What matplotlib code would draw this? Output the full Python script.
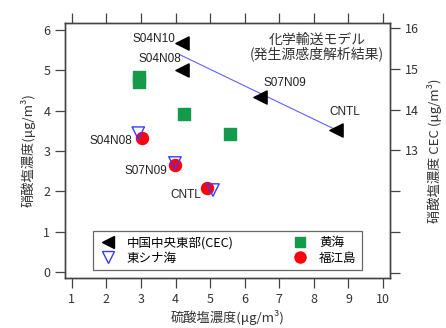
import matplotlib
matplotlib.use("Agg")
import matplotlib.pyplot as plt
from matplotlib.lines import Line2D

plt.rcParams['font.family'] = ['Noto Sans CJK JP', 'DejaVu Sans']

# 中国中央東部 (CEC) - right axis
cec_x = [4.19, 4.19, 6.45, 8.65]
cec_y = [15.63, 14.97, 14.31, 13.50]
cec_lbl = ["S04N10", "S04N08", "S07N09", "CNTL"]

# 回帰線 (right axis)
fit_x = [4.13, 8.65]
fit_y = [15.34, 13.50]

# 黄海
yel_x = [2.94, 2.94, 4.25, 5.58]
yel_y = [4.83, 4.71, 3.92, 3.42]

# 東シナ海
ecs_x = [2.92, 3.98, 5.08]
ecs_y = [3.44, 2.70, 2.03]

# 福江島
fuk_x = [3.03, 3.99, 4.90]
fuk_y = [3.32, 2.66, 2.08]
fuk_lbl = ["S04N08", "S07N09", "CNTL"]

fig = plt.figure(figsize=(4.46, 3.28), dpi=100)
ax = fig.add_axes([0.1457, 0.1524, 0.7287, 0.7776])
ax2 = ax.twinx()

gray = "#444444"
blue = "#3a3aff"
lab = dict(fontsize=8.5, color="#222222", family=["Liberation Sans", "DejaVu Sans"])

ax.scatter(yel_x, yel_y, marker="s", s=70, color="#139a4a", zorder=3)
ax.scatter(fuk_x, fuk_y, marker="o", s=75, color="#ff0010", zorder=3)
ax.scatter(ecs_x, ecs_y, marker="v", s=80, facecolors="none", edgecolors=blue,
           linewidths=1.0, zorder=4)

ax2.plot(fit_x, fit_y, color="#6060ff", lw=0.8, zorder=2)
ax2.scatter(cec_x, cec_y, marker="<", s=90, color="black", zorder=3)

# labels (CEC)
ax2.text(4.0, 15.72, cec_lbl[0], ha="right", va="center", **lab)
ax2.text(4.15, 15.25, cec_lbl[1], ha="right", va="center", **lab)
ax2.text(6.55, 14.65, cec_lbl[2], ha="left", va="center", **lab)
ax2.text(8.45, 13.95, cec_lbl[3], ha="left", va="center", **lab)

# labels (福江島)
ax.text(2.75, 3.25, fuk_lbl[0], ha="right", va="center", **lab)
ax.text(3.75, 2.5, fuk_lbl[1], ha="right", va="center", **lab)
ax.text(4.75, 1.9, fuk_lbl[2], ha="right", va="center", **lab)

ax.text(0.775, 0.96, "化学輸送モデル\n(発生源感度解析結果)", transform=ax.transAxes,
        ha="center", va="top", fontsize=10, color="#333333", linespacing=0.9)

ax.set_xlim(0.8, 10.2)
ax.set_ylim(-0.15, 6.17)
ax2.set_ylim(9.88, 16.12)

ax.set_xticks(range(1, 11))
ax.set_yticks(range(0, 7))
ax2.set_yticks(range(10, 17))
ax2.set_yticklabels(["", "", "", "13", "14", "15", "16"])

ax.tick_params(axis="both", direction="out", length=7, width=0.9, color=gray,
               labelsize=9, labelcolor="#333333", top=True)
ax.tick_params(axis="x", pad=4)
ax2.tick_params(axis="y", direction="out", length=7, width=0.9, color=gray,
                labelsize=9, labelcolor="#333333")

for a in (ax, ax2):
    for s in a.spines.values():
        s.set_color(gray)
        s.set_linewidth(1.0)

ax.set_xlabel("硫酸塩濃度(μg/m³)", fontsize=9.5, color="#333333", labelpad=3)
ax.set_ylabel("硝酸塩濃度(μg/m³)", fontsize=9.5, color="#333333", labelpad=6)
ax2.set_ylabel("硝酸塩濃度 CEC (μg/m³)", fontsize=9.5, color="#333333", labelpad=6)

handles = [
    Line2D([], [], ls="none", marker="<", color="black", ms=8),
    Line2D([], [], ls="none", marker="v", mfc="none", mec=blue, ms=8),
    Line2D([], [], ls="none", marker="s", color="#139a4a", ms=7),
    Line2D([], [], ls="none", marker="o", color="#ff0010", ms=8),
]
names = ["中国中央東部(CEC)", "東シナ海", "黄海", "福江島"]
leg = ax.legend(handles, names, ncol=2, loc="lower left",
                bbox_to_anchor=(0.066, 0.008, 0.866, 0.15), mode="expand",
                fontsize=9, frameon=True, fancybox=False, borderpad=0.4,
                labelspacing=0.2, handletextpad=0.7, handlelength=1.6,
                columnspacing=1.0)
leg.get_frame().set_edgecolor(gray)
leg.get_frame().set_linewidth(0.9)

fig.savefig("out.png", dpi=100)
